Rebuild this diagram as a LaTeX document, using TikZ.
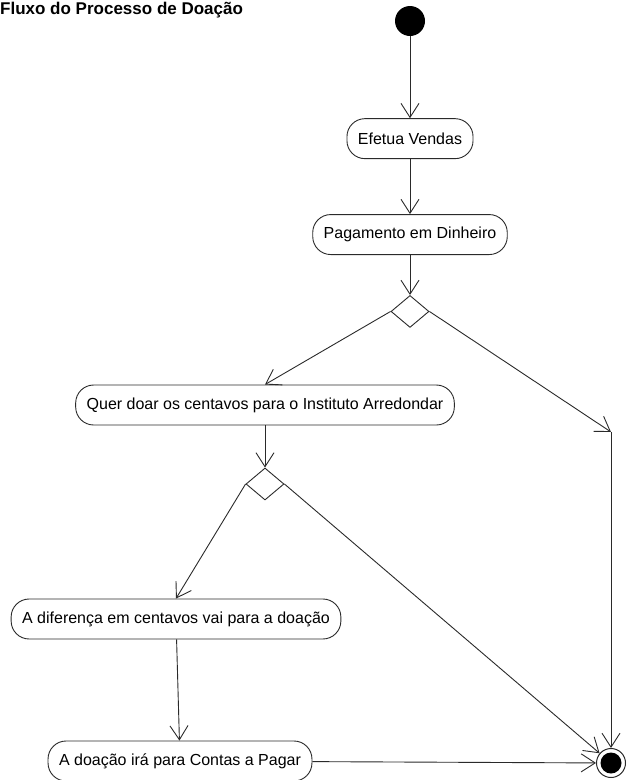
\documentclass[tikz,border=0pt]{standalone}
\usepackage{fontspec}
\setmainfont{Liberation Sans}
\usetikzlibrary{positioning,arrows.meta,shapes.geometric}
\definecolor{linegray}{HTML}{2A2A2A}

\begin{document}
\begin{tikzpicture}[
    x=1pt, y=-1pt,
    act/.style={draw=linegray, line width=0.9pt, rounded corners=18pt, minimum height=40pt, inner xsep=11pt, font=\fontsize{16}{18}\selectfont},
    choice/.style={diamond, draw=linegray, line width=0.9pt, minimum width=38pt, minimum height=32pt, inner sep=0pt},
    arr/.style={-{Straight Barb[length=14pt,width=18pt]}, line width=0.9pt, draw=linegray}
]
    \useasboundingbox (0,0) rectangle (630,780);
    \node[anchor=base west, inner sep=0pt, font=\fontsize{17}{20}\selectfont\bfseries] (title) at (0,14) {Fluxo do Processo de Doação};

    \node[circle, fill=black, minimum size=30pt, inner sep=0pt] (start) at (410,21) {};
    \node[act, below=82pt of start] (efetua) {Efetua Vendas};
    \node[act, below=55pt of efetua] (pag) {Pagamento em Dinheiro};
    \node[choice, below=40pt of pag] (d1) {};
    \node[act] (quer) at (265,405) {Quer doar os centavos para o Instituto Arredondar};
    \node[choice] (d2) at (265,484) {};
    \node[act] (diff) at (176,619) {A diferença em centavos vai para a doação};
    \node[act] (conta) at (180,761) {A doação irá para Contas a Pagar};
    \node[circle, draw=linegray, line width=1pt, fill=white, minimum size=29pt, inner sep=0pt,
          path picture={\fill[black] (path picture bounding box.center) circle (10.5pt);}] (end) at (611,763) {};
    \coordinate (j1) at (611,432);

    \draw[arr] (start) -- (efetua);
    \draw[arr] (efetua) -- (pag);
    \draw[arr] (pag) -- (d1);
    \draw[arr] (d1.west) -- (quer.north);
    \draw[arr] (d1.east) -- (j1);
    \draw[arr] (j1) -- (end);
    \draw[arr] (quer) -- (d2);
    \draw[arr] (d2.west) -- (diff.north);
    \draw[arr] (d2.east) -- (end);
    \draw[arr] (diff) -- (conta);
    \draw[arr] (conta) -- (end);
\end{tikzpicture}
\end{document}
